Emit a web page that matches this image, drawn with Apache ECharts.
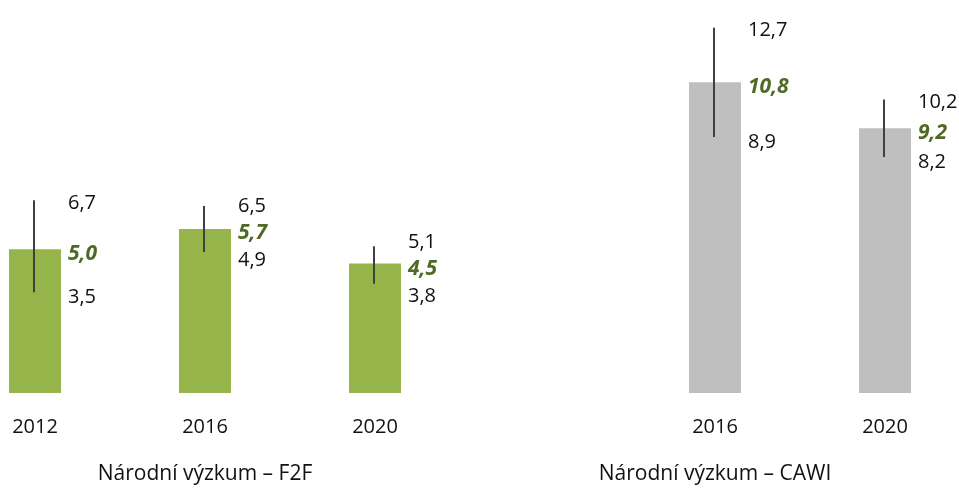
<!DOCTYPE html>
<html>
<head>
<meta charset="utf-8">
<script src="https://cdn.jsdelivr.net/npm/echarts@6/dist/echarts.min.js"></script>
<style>
  html, body { margin: 0; padding: 0; background: #fff; }
  #chart { width: 959px; height: 488px; }
</style>
</head>
<body>
<div id="chart"></div>
<script>
// Survey years per column; the empty slot separates the two survey modes
const categories = ['2012', '2016', '2020', '', '2016', '2020'];
const groupTitles = ['', 'Národní výzkum – F2F', '', '', 'Národní výzkum – CAWI', ''];
const surveyMode = ['F2F', 'F2F', 'F2F', null, 'CAWI', 'CAWI'];

// Point estimates and confidence interval bounds
const meanValues  = [5.0, 5.7, 4.5, null, 10.8, 9.2];
const upperValues = [6.7, 6.5, 5.1, null, 12.7, 10.2];
const lowerValues = [3.5, 4.9, 3.8, null, 8.9, 8.2];

const modeColors = { F2F: '#95b54b', CAWI: '#bfbfbf' };
const FONT = '"Open Sans", "Noto Sans", sans-serif';
const fmt = v => v.toFixed(1).replace('.', ',');

const chart = echarts.init(document.getElementById('chart'), null, { renderer: 'canvas' });

const barData = meanValues.map((v, i) =>
  v == null ? '-' : { value: v, itemStyle: { color: modeColors[surveyMode[i]] } });

const intervalData = meanValues
  .map((v, i) => v == null ? null : [i, lowerValues[i], v, upperValues[i]])
  .filter(d => d);

// Spread the three labels of a column so they never overlap
function spreadLabels(ys, gap) {
  const out = ys.slice();
  for (let iter = 0; iter < 10; iter++) {
    for (let k = 0; k < out.length - 1; k++) {
      const d = out[k + 1] - out[k];
      if (d < gap) {
        const push = (gap - d) / 2;
        out[k] -= push;
        out[k + 1] += push;
      }
    }
  }
  return out;
}

function renderInterval(params, api) {
  const idx = api.value(0);
  const lo = api.value(1), mean = api.value(2), hi = api.value(3);
  const pHi = api.coord([idx, hi]);
  const pLo = api.coord([idx, lo]);
  const pMean = api.coord([idx, mean]);
  const x = pHi[0];
  const ys = spreadLabels([pHi[1] + 3, pMean[1] + 5, pLo[1] + 5], 27);
  const tx = x + 33;
  const plain = { fontFamily: FONT, fontSize: 20, fill: '#111', align: 'left', verticalAlign: 'middle' };
  return {
    type: 'group',
    children: [
      {
        type: 'line',
        shape: { x1: x - 1, y1: pHi[1], x2: x - 1, y2: pLo[1] },
        style: { stroke: '#404040', lineWidth: 2 }
      },
      { type: 'text', x: tx, y: ys[0], style: Object.assign({ text: fmt(hi) }, plain) },
      {
        type: 'text', x: tx, y: ys[1],
        style: Object.assign({}, plain, {
          text: fmt(mean), fill: '#4f6a24', fontWeight: 'bold', fontStyle: 'italic', fontSize: 21
        })
      },
      { type: 'text', x: tx, y: ys[2], style: Object.assign({ text: fmt(lo) }, plain) }
    ]
  };
}

chart.setOption({
  animation: false,
  backgroundColor: '#ffffff',
  grid: { left: 35, right: 74, top: 19, bottom: 95, containLabel: false },
  xAxis: [
    {
      type: 'category',
      data: categories,
      boundaryGap: false,
      axisLine: { show: false },
      axisTick: { show: false },
      splitLine: { show: false },
      axisLabel: { interval: 0, fontFamily: FONT, fontSize: 20, color: '#111', margin: 24 }
    },
    {
      type: 'category',
      data: groupTitles,
      position: 'bottom',
      offset: 48,
      boundaryGap: false,
      axisLine: { show: false },
      axisTick: { show: false },
      splitLine: { show: false },
      axisLabel: { interval: 0, fontFamily: FONT, fontSize: 21, color: '#111', margin: 23 }
    }
  ],
  yAxis: { type: 'value', min: 0, max: 13, show: false, splitLine: { show: false } },
  series: [
    {
      type: 'bar',
      data: barData,
      barWidth: 52,
      silent: true
    },
    {
      type: 'custom',
      data: intervalData,
      renderItem: renderInterval,
      encode: { x: 0, y: [1, 3] },
      z: 5,
      silent: true
    }
  ]
});
</script>
</body>
</html>
